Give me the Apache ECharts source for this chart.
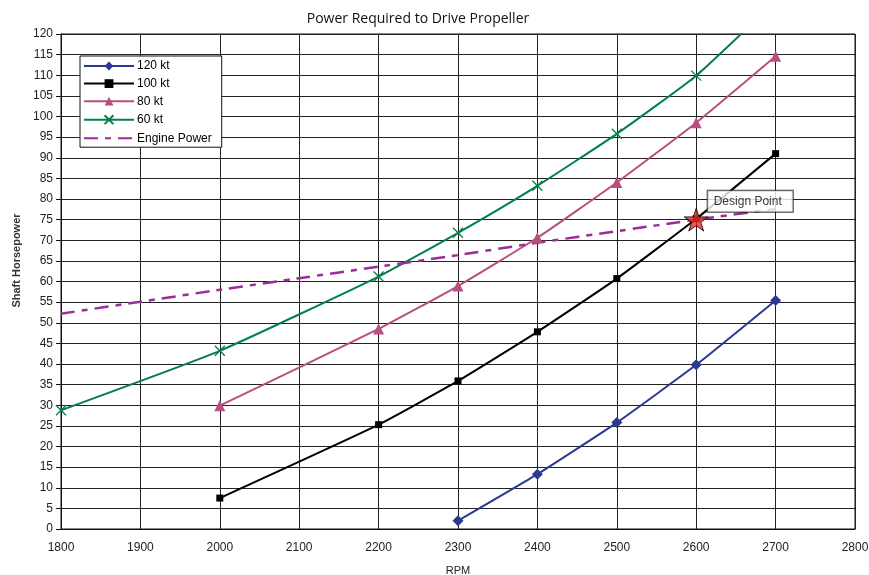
<!DOCTYPE html>
<html>
<head>
<meta charset="utf-8">
<script src="https://cdn.jsdelivr.net/npm/echarts@6/dist/echarts.min.js"></script>
<style>
  html, body { margin: 0; padding: 0; background: #fff; }
  #chart { width: 869px; height: 575px; }
</style>
</head>
<body>
<div id="chart"></div>
<script>
// Propeller power curves: shaft horsepower required vs engine RPM
const rpm120 = [2300, 2400, 2500, 2600, 2700];
const hp120 = [2.0, 13.3, 25.8, 39.8, 55.4];

const rpm100 = [2000, 2200, 2300, 2400, 2500, 2600, 2700];
const hp100 = [7.5, 25.3, 35.9, 47.8, 60.7, 75.2, 91.0];

const rpm80 = [2000, 2200, 2300, 2400, 2500, 2600, 2700];
const hp80 = [29.9, 48.5, 58.9, 70.6, 84.0, 98.5, 114.6];

const rpm60 = [1800, 2000, 2200, 2300, 2400, 2500, 2600, 2700];
const hp60 = [28.8, 43.2, 61.2, 71.8, 83.2, 95.8, 109.9, 128.0];

const rpmEngine = [1800, 1900, 2000, 2100, 2200, 2300, 2400, 2500, 2600, 2700];
const hpEngine = [52.2, 55.1, 58.0, 60.8, 63.6, 66.4, 69.4, 72.2, 75.0, 77.6];

const designPoint = [2600, 75];
const seriesNames = ['120 kt', '100 kt', '80 kt', '60 kt', 'Engine Power'];

const pair = (xs, ys) => xs.map((x, i) => [x, ys[i]]);

const starPath = 'path://M50,0 L61.8,36.2 L100,36.2 L69.1,58.6 L80.9,95.1 L50,72.7 L19.1,95.1 L30.9,58.6 L0,36.2 L38.2,36.2 Z';
const crossPath = 'path://M0,0 L10,10 M10,0 L0,10';

// Engine Power has no markers, so its legend entry shows the dashed line only
const legendItems = seriesNames.map(n =>
  n === 'Engine Power' ? { name: n, itemStyle: { opacity: 0 } } : { name: n }
);

const chart = echarts.init(document.getElementById('chart'));
chart.setOption({
  animation: false,
  backgroundColor: '#ffffff',
  title: {
    text: 'Power Required to Drive Propeller',
    left: 413, top: 7, textAlign: 'center',
    textStyle: { fontFamily: 'Open Sans', fontSize: 14, fontWeight: 'normal', color: '#111' }
  },
  grid: {
    left: 61, right: 14, top: 34, bottom: 46,
    outerBoundsMode: 'none', containLabel: false,
    show: true, borderColor: '#111', borderWidth: 1
  },
  legend: {
    data: legendItems,
    orient: 'vertical',
    left: 80, top: 56,
    padding: [4, 10, 3, 3],
    itemGap: 5.6,
    itemWidth: 50,
    itemHeight: 11,
    backgroundColor: '#fff',
    borderColor: '#111',
    borderWidth: 1,
    borderRadius: 0,
    textStyle: { fontFamily: 'Liberation Sans, Arial', fontSize: 12, color: '#000', padding: [0, 0, 0, -2] }
  },
  xAxis: {
    type: 'value', min: 1800, max: 2800, interval: 100,
    name: 'RPM', nameLocation: 'middle', nameGap: 36,
    nameTextStyle: { fontFamily: 'Liberation Sans Narrow, Arial Narrow, Liberation Sans', fontSize: 11, color: '#222' },
    axisLine: { lineStyle: { color: '#111', width: 1 } },
    axisTick: { show: false },
    axisLabel: {
      fontFamily: 'Liberation Sans Narrow, Arial Narrow, Liberation Sans', fontSize: 12, color: '#222', margin: 13,
      formatter: v => String(v)
    },
    splitLine: { lineStyle: { color: '#222', width: 1 } }
  },
  yAxis: {
    type: 'value', min: 0, max: 120, interval: 5,
    name: 'Shaft Horsepower', nameLocation: 'middle', nameGap: 38,
    nameTextStyle: { fontFamily: 'Liberation Sans', fontSize: 11, fontWeight: 'bold', color: '#333', padding: [0, 0, 0, 42] },
    axisLine: { lineStyle: { color: '#111', width: 1 } },
    axisTick: { show: true, inside: false, length: 5, lineStyle: { color: '#111' } },
    axisLabel: { fontFamily: 'Liberation Sans, Arial', fontSize: 12, color: '#222', margin: 8 },
    splitLine: { lineStyle: { color: '#222', width: 1 } }
  },
  series: [
    {
      name: '120 kt', type: 'line', data: pair(rpm120, hp120), smooth: 0.15,
      symbol: 'diamond', symbolSize: 11,
      lineStyle: { color: '#2B3990', width: 2 }, itemStyle: { color: '#2B3990' }
    },
    {
      name: '100 kt', type: 'line', data: pair(rpm100, hp100), smooth: 0.15,
      symbol: 'rect', symbolSize: 7,
      lineStyle: { color: '#000', width: 2 }, itemStyle: { color: '#000' }
    },
    {
      name: '80 kt', type: 'line', data: pair(rpm80, hp80), smooth: 0.15,
      symbol: 'triangle', symbolSize: 11,
      lineStyle: { color: '#B94E7F', width: 2 }, itemStyle: { color: '#B94E7F' }
    },
    {
      name: '60 kt', type: 'line', data: pair(rpm60, hp60), smooth: 0.15,
      symbol: crossPath, symbolSize: 10,
      lineStyle: { color: '#00804A', width: 2 },
      itemStyle: { color: 'none', borderColor: '#00804A', borderWidth: 1.3 }
    },
    {
      name: 'Engine Power', type: 'line', data: pair(rpmEngine, hpEngine), smooth: 0.15,
      symbol: 'none',
      lineStyle: { color: '#9B2D98', width: 2.5, type: [14, 7, 6, 7] },
      itemStyle: { color: '#9B2D98' }
    },
    {
      name: 'Design Point', type: 'scatter', data: [designPoint],
      symbol: starPath, symbolSize: 24, symbolKeepAspect: true, z: 10,
      itemStyle: { color: '#EE2B24', borderColor: '#000', borderWidth: 1 },
      label: {
        show: true, formatter: 'Design Point', position: [24, -17],
        fontFamily: 'Liberation Sans, Arial', fontSize: 12, color: '#000',
        backgroundColor: '#fff', borderColor: '#111', borderWidth: 1,
        padding: [5, 11, 4, 6]
      }
    }
  ]
});
</script>
</body>
</html>
